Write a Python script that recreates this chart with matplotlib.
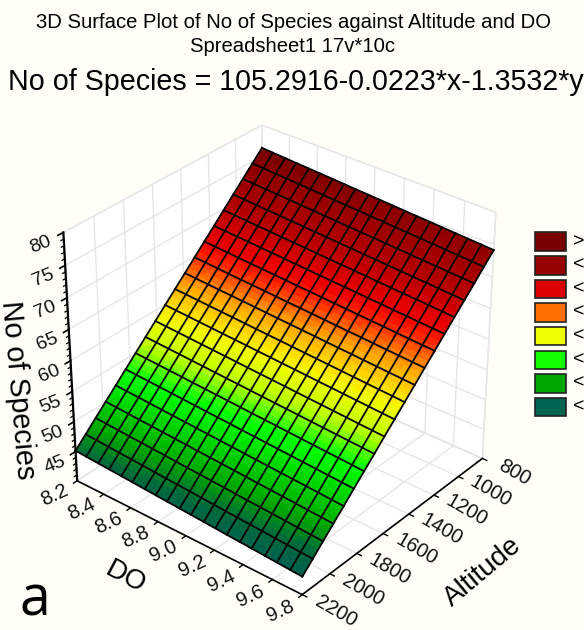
# Surface plot of species count against altitude and DO
import numpy as np
import matplotlib
matplotlib.use("Agg")
import matplotlib.pyplot as plt
from matplotlib.colors import LinearSegmentedColormap, Normalize
from matplotlib.patches import Rectangle
from mpl_toolkits.mplot3d import proj3d

plt.rcParams['font.family'] = ['Liberation Sans', 'DejaVu Sans']

# surface grid, one row per altitude
do_vals = [8.2, 8.28, 8.37, 8.45, 8.54, 8.62, 8.71, 8.79, 8.87, 8.96,
           9.04, 9.13, 9.21, 9.29, 9.38, 9.46, 9.55, 9.63, 9.72, 9.8]
alt_vals = [800, 874, 947, 1021, 1095, 1168, 1242, 1316, 1389, 1463,
            1537, 1611, 1684, 1758, 1832, 1905, 1979, 2053, 2126, 2200]
species = [
    [76.36, 76.24, 76.13, 76.01, 75.90, 75.79, 75.67, 75.56, 75.44, 75.33, 75.22, 75.10, 74.99, 74.87, 74.76, 74.65, 74.53, 74.42, 74.30, 74.19],
    [74.71, 74.60, 74.48, 74.37, 74.26, 74.14, 74.03, 73.91, 73.80, 73.69, 73.57, 73.46, 73.35, 73.23, 73.12, 73.00, 72.89, 72.78, 72.66, 72.55],
    [73.07, 72.96, 72.84, 72.73, 72.61, 72.50, 72.39, 72.27, 72.16, 72.04, 71.93, 71.82, 71.70, 71.59, 71.47, 71.36, 71.25, 71.13, 71.02, 70.90],
    [71.43, 71.31, 71.20, 71.08, 70.97, 70.86, 70.74, 70.63, 70.51, 70.40, 70.29, 70.17, 70.06, 69.95, 69.83, 69.72, 69.60, 69.49, 69.38, 69.26],
    [69.78, 69.67, 69.56, 69.44, 69.33, 69.21, 69.10, 68.99, 68.87, 68.76, 68.64, 68.53, 68.42, 68.30, 68.19, 68.07, 67.96, 67.85, 67.73, 67.62],
    [68.14, 68.03, 67.91, 67.80, 67.68, 67.57, 67.46, 67.34, 67.23, 67.11, 67.00, 66.89, 66.77, 66.66, 66.55, 66.43, 66.32, 66.20, 66.09, 65.98],
    [66.50, 66.38, 66.27, 66.15, 66.04, 65.93, 65.81, 65.70, 65.58, 65.47, 65.36, 65.24, 65.13, 65.02, 64.90, 64.79, 64.67, 64.56, 64.45, 64.33],
    [64.85, 64.74, 64.63, 64.51, 64.40, 64.28, 64.17, 64.06, 63.94, 63.83, 63.71, 63.60, 63.49, 63.37, 63.26, 63.14, 63.03, 62.92, 62.80, 62.69],
    [63.21, 63.10, 62.98, 62.87, 62.75, 62.64, 62.53, 62.41, 62.30, 62.18, 62.07, 61.96, 61.84, 61.73, 61.62, 61.50, 61.39, 61.27, 61.16, 61.05],
    [61.57, 61.45, 61.34, 61.22, 61.11, 61.00, 60.88, 60.77, 60.65, 60.54, 60.43, 60.31, 60.20, 60.09, 59.97, 59.86, 59.74, 59.63, 59.52, 59.40],
    [59.92, 59.81, 59.70, 59.58, 59.47, 59.35, 59.24, 59.13, 59.01, 58.90, 58.78, 58.67, 58.56, 58.44, 58.33, 58.22, 58.10, 57.99, 57.87, 57.76],
    [58.28, 58.17, 58.05, 57.94, 57.82, 57.71, 57.60, 57.48, 57.37, 57.25, 57.14, 57.03, 56.91, 56.80, 56.69, 56.57, 56.46, 56.34, 56.23, 56.12],
    [56.64, 56.52, 56.41, 56.30, 56.18, 56.07, 55.95, 55.84, 55.73, 55.61, 55.50, 55.38, 55.27, 55.16, 55.04, 54.93, 54.81, 54.70, 54.59, 54.47],
    [54.99, 54.88, 54.77, 54.65, 54.54, 54.42, 54.31, 54.20, 54.08, 53.97, 53.85, 53.74, 53.63, 53.51, 53.40, 53.29, 53.17, 53.06, 52.94, 52.83],
    [53.35, 53.24, 53.12, 53.01, 52.90, 52.78, 52.67, 52.55, 52.44, 52.33, 52.21, 52.10, 51.98, 51.87, 51.76, 51.64, 51.53, 51.41, 51.30, 51.19],
    [51.71, 51.59, 51.48, 51.37, 51.25, 51.14, 51.02, 50.91, 50.80, 50.68, 50.57, 50.45, 50.34, 50.23, 50.11, 50.00, 49.89, 49.77, 49.66, 49.54],
    [50.07, 49.95, 49.84, 49.72, 49.61, 49.50, 49.38, 49.27, 49.15, 49.04, 48.93, 48.81, 48.70, 48.58, 48.47, 48.36, 48.24, 48.13, 48.01, 47.90],
    [48.42, 48.31, 48.19, 48.08, 47.97, 47.85, 47.74, 47.62, 47.51, 47.40, 47.28, 47.17, 47.06, 46.94, 46.83, 46.71, 46.60, 46.49, 46.37, 46.26],
    [46.78, 46.66, 46.55, 46.44, 46.32, 46.21, 46.09, 45.98, 45.87, 45.75, 45.64, 45.53, 45.41, 45.30, 45.18, 45.07, 44.96, 44.84, 44.73, 44.61],
    [45.14, 45.02, 44.91, 44.79, 44.68, 44.57, 44.45, 44.34, 44.22, 44.11, 44.00, 43.88, 43.77, 43.65, 43.54, 43.43, 43.31, 43.20, 43.08, 42.97],
]

do_ticks = [8.2, 8.4, 8.6, 8.8, 9.0, 9.2, 9.4, 9.6, 9.8]
alt_ticks = [800, 1000, 1200, 1400, 1600, 1800, 2000, 2200]
z_ticks = [45, 50, 55, 60, 65, 70, 75, 80]
z_minor = [41, 42, 43, 44, 46, 47, 48, 49, 51, 52, 53, 54, 56, 57, 58, 59,
           61, 62, 63, 64, 66, 67, 68, 69, 71, 72, 73, 74, 76, 77, 78, 79]

legend_labels = ['>', '<', '<', '<', '<', '<', '<', '<']
legend_colors = ['#780000', '#960000', '#DC0000', '#FF7000',
                 '#EEFF00', '#14FF00', '#00A800', '#006450']

# colour ramp by species count
level_stops = [43, 45, 47.5, 53, 56, 58.5, 60, 62.5, 65, 66.5, 70, 75, 76.4]
ramp_colors = ['#006050', '#00693C', '#00AA00', '#00FF00', '#BEFF00', '#EEFF00', '#FFE000',
               '#FFA000', '#FF3000', '#F00000', '#B80000', '#8C0000', '#780000']

BG = '#FFFFF7'
W, H = 584, 630


def px(x, y):
    return x / W, 1 - y / H


def label3d(x, y, z, s, rotation, size):
    # Text3D ignores rotation, so project the anchor and place a 2D text
    sx, sy, _ = proj3d.proj_transform(x, y, z, ax.get_proj())
    ax.text2D(sx, sy, s, transform=ax.transData, rotation=rotation, fontsize=size,
              ha='center', va='center', rotation_mode='anchor', color='#111111')


fig = plt.figure(figsize=(5.84, 6.30), dpi=100, facecolor=BG)
ax = fig.add_axes([-0.032, -0.068, 1.0, 1.0], projection='3d', facecolor=BG)
ax.view_init(elev=32, azim=-50.5)
ax.set_proj_type('persp', focal_length=0.75)
ax.set_box_aspect((1, 1, 0.98), zoom=0.85)
ax.computed_zorder = False

ax.set_xlim(8.2, 9.8, view_margin=0)
ax.set_ylim(2200, 800, view_margin=0)
ax.set_zlim(40, 80, view_margin=0)
ax.set_xticks(do_ticks)
ax.set_yticks(alt_ticks)
ax.set_zticks([40] + z_ticks)

for axis in (ax.xaxis, ax.yaxis, ax.zaxis):
    axis.set_pane_color('white')
    axis.pane.set_edgecolor('#E6E6E6')
    axis.line.set_color((0, 0, 0, 0))
    axis._axinfo['grid'].update(color='#E6E6E6', linewidth=1.0)
    axis._axinfo['tick'].update(inward_factor=0, outward_factor=0)
    axis.set_ticklabels([])
    for t in axis.get_major_ticks():
        t.label1.set_visible(False)
ax.tick_params(axis='both', length=0, color=(0, 0, 0, 0))

do_arr = np.array(do_vals)
alt_arr = np.array(alt_vals)
z_arr = np.array(species)

# finer mesh only for the smooth colour fill inside each cell
sub = 6
ii = np.linspace(0, 19, 19 * sub + 1)
fine_do = np.interp(ii, np.arange(20), do_arr)
fine_alt = np.interp(ii, np.arange(20), alt_arr)
fine_z = np.array([np.interp(ii, np.arange(20), r) for r in z_arr])
fine_z = np.array([np.interp(ii, np.arange(20), c) for c in fine_z.T]).T
X, Y = np.meshgrid(fine_do, fine_alt)

norm = Normalize(level_stops[0], level_stops[-1])
cmap = LinearSegmentedColormap.from_list(
    'levels', [(norm(s), c) for s, c in zip(level_stops, ramp_colors)], N=64)
ax.plot_surface(X, Y, fine_z, facecolors=cmap(norm(fine_z)), shade=False,
                rstride=1, cstride=1, linewidth=0, antialiased=False, zorder=3)

# cell outlines
for i in range(20):
    ax.plot(do_arr, [alt_arr[i]] * 20, z_arr[i], color='#050505', lw=1.3, zorder=4)
    ax.plot([do_arr[i]] * 20, alt_arr, z_arr[:, i], color='#050505', lw=1.3, zorder=4)

# axis lines, ticks and their labels
ax.plot([8.2, 9.8], [2200, 2200], [40, 40], color='black', lw=1.2, zorder=5)
ax.plot([9.8, 9.8], [2200, 800], [40, 40], color='black', lw=1.2, zorder=5)
ax.plot([8.2, 8.2], [2200, 2200], [40, 80], color='black', lw=1.6, zorder=5)

for d in do_ticks:
    ax.plot([d, d], [2200, 2225], [40, 40], color='black', lw=1, zorder=5)
    label3d(d, 2355, 40, f'{d:.1f}', 25, 14.5)
for a in alt_ticks:
    ax.plot([9.8, 9.83], [a, a], [40, 40], color='black', lw=1, zorder=5)
    label3d(10.02, a, 40, str(a), -30, 14.5)
for z in z_ticks:
    ax.plot([8.2, 8.2], [2200, 2235], [z, z], color='black', lw=1.2, zorder=5)
    label3d(8.2, 2344, z, str(z), 22, 14)
for z in z_minor:
    ax.plot([8.2, 8.2], [2200, 2218], [z, z], color='black', lw=0.9, zorder=5)

fig.text(*px(125, 578), 'DO', rotation=-28, fontsize=20, ha='center', va='center',
         rotation_mode='anchor')
fig.text(*px(483, 572), 'Altitude', rotation=40, fontsize=20, ha='center', va='center',
         rotation_mode='anchor')
fig.text(*px(18, 390), 'No of Species', rotation=-85, fontsize=20.7, ha='center', va='center',
         rotation_mode='anchor')

# titles
fig.text(*px(293, 22), '3D Surface Plot of No of Species against Altitude and DO',
         fontsize=14.6, ha='center', va='center')
fig.text(*px(293, 47), 'Spreadsheet1 17v*10c', fontsize=14.6, ha='center', va='center')
fig.text(*px(296, 82), 'No of Species = 105.2916-0.0223*x-1.3532*y',
         fontsize=20.6, ha='center', va='center')
fig.text(*px(20, 615), 'a', fontsize=40, family=['Open Sans', 'DejaVu Sans'],
         ha='left', va='baseline')

# legend swatches, the labels run off the page in the original
for i, (lab, col) in enumerate(zip(legend_labels, legend_colors)):
    y0 = 232.5 + i * 23.6
    x0, y1 = px(535, y0 + 18.5)
    fig.add_artist(Rectangle((x0, y1), 31 / W, 18.5 / H, transform=fig.transFigure,
                             facecolor=col, edgecolor='#222222', lw=1.2))
    fig.text(*px(573, y0 + 9), lab, fontsize=14, ha='left', va='center')

fig.savefig('out.png', dpi=100, facecolor=BG)
